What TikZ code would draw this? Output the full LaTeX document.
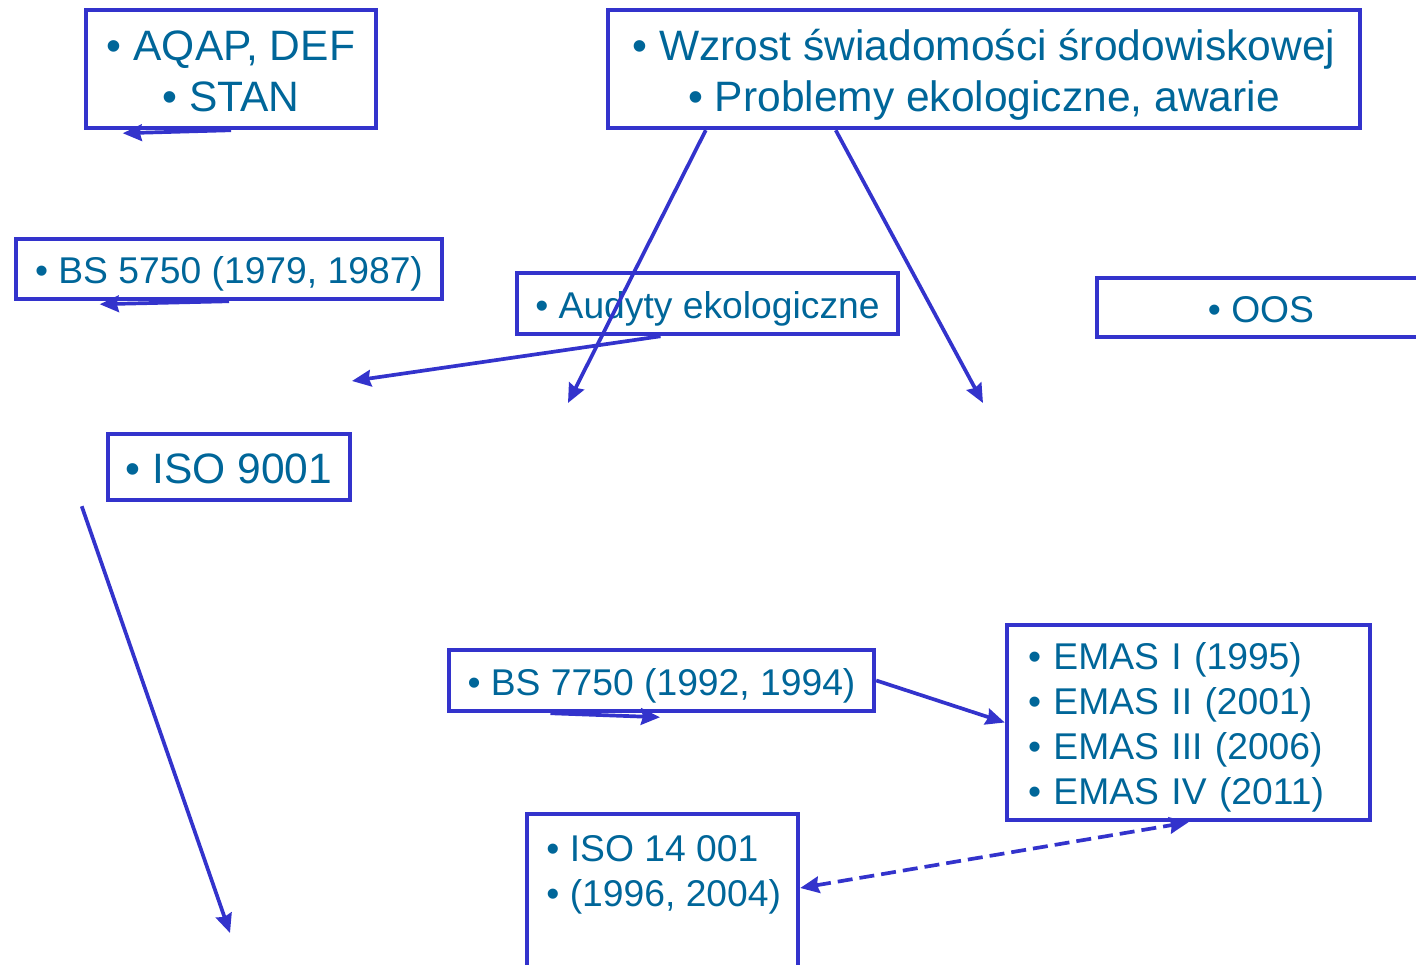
\documentclass[tikz,border=0pt]{standalone}
\usepackage{fontspec}
\setmainfont{Liberation Sans}
\usepackage{tikz}
\usetikzlibrary{arrows.meta}

\definecolor{boxblue}{RGB}{51,51,204}
\definecolor{txtblue}{RGB}{0,102,153}
\newcommand{\ppstrut}{\rule[-0.21em]{0pt}{1.22em}}

\begin{document}
\begin{tikzpicture}[
		box/.style={draw=boxblue,line width=0.045cm,text=txtblue,inner sep=0pt,align=center},
		bigtxt/.style={font=\fontsize{12.1pt}{14.5pt}\selectfont\lineskiplimit -100pt\relax},
		smalltxt/.style={font=\fontsize{10.6pt}{12.8pt}\selectfont\lineskiplimit -100pt\relax},
		arr/.style={draw=boxblue,line width=0.037cm,-{Stealth[length=0.19cm,width=0.165cm,inset=0.02cm]}}
	]
		\useasboundingbox (0,0) rectangle (14.16,-9.65);
		
		% boxes
		\node[box,bigtxt,minimum width=2.90cm,minimum height=1.18cm] (aqap) at (2.31,-0.69) {\ppstrut• AQAP, DEF\\\ppstrut• STAN};
		\node[box,bigtxt,minimum width=7.52cm,minimum height=1.18cm] (wzrost) at (9.84,-0.69) {\ppstrut• Wzrost świadomości środowiskowej\\\ppstrut• Problemy ekologiczne, awarie};
		\node[box,smalltxt,minimum width=4.26cm,minimum height=0.60cm] (bs5750) at (2.29,-2.69) {\ppstrut• BS 5750 (1979, 1987)};
		\node[box,smalltxt,minimum width=3.81cm,minimum height=0.61cm] (audyty) at (7.075,-3.035) {\ppstrut• Audyty ekologiczne};
		\node[box,smalltxt,minimum width=3.28cm,minimum height=0.59cm] (oos) at (12.61,-3.075) {\ppstrut• OOS};
		\node[box,bigtxt,minimum width=2.42cm,minimum height=0.66cm] (iso9001) at (2.29,-4.67) {\ppstrut• ISO 9001};
		\node[box,smalltxt,minimum width=4.25cm,minimum height=0.61cm] (bs7750) at (6.615,-6.805) {\ppstrut• BS 7750 (1992, 1994)};
		\node[box,smalltxt,minimum width=3.63cm,minimum height=1.95cm,text width=3.21cm,inner xsep=0.21cm,align=left] (emas) at (11.885,-7.225) {\ppstrut• EMAS I (1995)\\\ppstrut• EMAS II (2001)\\\ppstrut• EMAS III (2006)\\\ppstrut• EMAS IV (2011)};
		\node[box,minimum width=2.71cm,minimum height=1.61cm] (iso14) at (6.625,-8.945) {};
		\node[smalltxt,text=txtblue,inner sep=0pt,align=left,anchor=north west] (iso14txt) at ([xshift=0.21cm,yshift=-0.11cm]iso14.north west) {\ppstrut• ISO 14 001\\\ppstrut• (1996, 2004)};
		
		% free ends
		\coordinate (aqapend) at ([xshift=0.39cm,yshift=-0.03cm]aqap.south west);
		\coordinate (bs5750end) at ([xshift=0.86cm,yshift=-0.03cm]bs5750.south west);
		\coordinate (audytyend) at (3.52,-3.81);
		\coordinate (wzrostL) at (5.68,-4.03);
		\coordinate (wzrostR) at (9.83,-4.03);
		\coordinate (iso9001end) at (2.30,-9.33);
		\coordinate (bs7750end) at ([xshift=-0.015cm,yshift=-0.04cm]bs7750.south);
		
		% arrows
		\draw[arr] (aqap.south) -- (aqapend);
		\draw[arr] (bs5750.south) -- (bs5750end);
		\draw[arr] ([xshift=-0.47cm]audyty.south) -- (audytyend);
		\draw[arr] ([xshift=1.00cm]wzrost.south west) -- (wzrostL);
		\draw[arr] ([xshift=2.30cm]wzrost.south west) -- (wzrostR);
		\draw[arr] ([xshift=-0.24cm,yshift=-0.04cm]iso9001.south west) -- (iso9001end);
		\draw[arr] ([xshift=-1.11cm]bs7750.south) -- (bs7750end);
		\draw[arr] (bs7750.east) -- (emas.west);
		\draw[arr,{Stealth[length=0.19cm,width=0.165cm,inset=0.02cm]}-{Stealth[length=0.19cm,width=0.165cm,inset=0.02cm]},dash pattern=on 0.15cm off 0.07cm] ([yshift=0.065cm]iso14.east) -- (emas.south);
	\end{tikzpicture}
\end{document}
